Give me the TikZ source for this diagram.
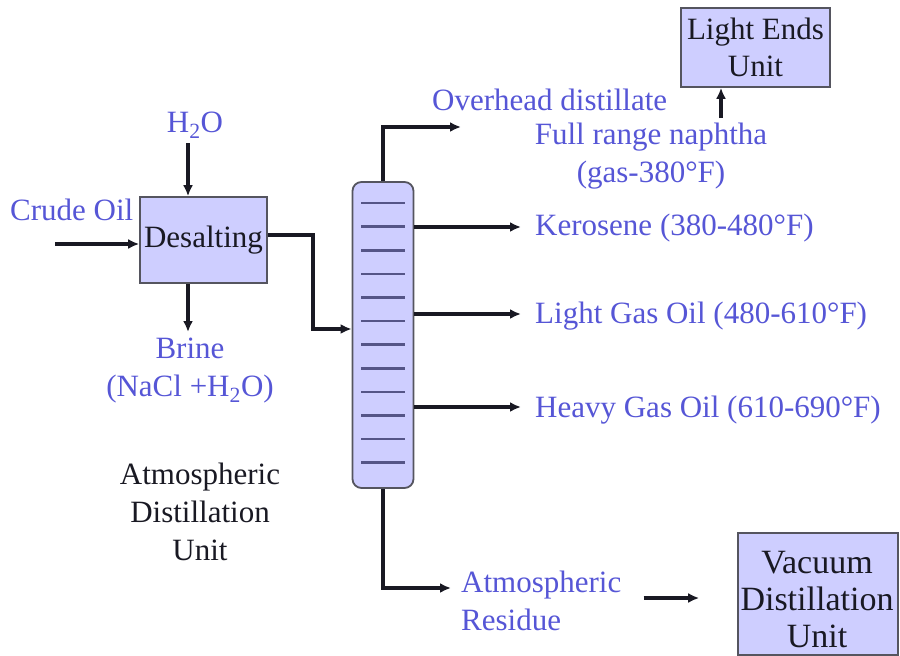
\documentclass[tikz,border=0pt]{standalone}
\usepackage{fontspec}
\setmainfont{Liberation Serif}
\usepackage{tikz}
\usetikzlibrary{
    arrows.meta,
    calc,
    positioning
}
\definecolor{ink}{RGB}{25,25,35}
\definecolor{streamblue}{RGB}{86,86,214}
\definecolor{unitfill}{RGB}{206,206,255}
\definecolor{unitedge}{RGB}{85,85,95}
\definecolor{trayline}{RGB}{85,85,135}
\tikzset{
    line cap=round,
    line join=round,
    unitbox/.style={
        rectangle,
        draw=unitedge,
        line width=1.6pt,
        fill=unitfill,
        text=ink,
        align=center,
        inner sep=2pt,
        font=\fontsize{31}{37}\selectfont
    },
    columnbox/.style={
        rectangle,
        rounded corners=9pt,
        draw=unitedge,
        line width=1.8pt,
        fill=unitfill,
        minimum width=61pt,
        minimum height=306pt
    },
    stream/.style={
        text=streamblue,
        align=center,
        inner sep=0pt,
        font=\fontsize{31}{38}\selectfont
    },
    caption/.style={
        stream,
        text=ink
    },
    flowarrow/.style={
        -{Latex[length=11pt,width=10pt]},
        draw=ink,
        line width=3.2pt
    },
    tray/.style={
        draw=trayline,
        line width=2.6pt
    }
}

\begin{document}
\begin{tikzpicture}[x=1pt, y=-1pt]
\useasboundingbox (0,0) rectangle (900,656);

% Desalter
\node[unitbox, minimum width=127pt, minimum height=86pt] (desalt) at (203.5,240) {Desalting};
\node[stream, anchor=west] (crude) at (10,210) {Crude Oil};
\node[stream] (water) at (195,125) {H\textsubscript{2}O};
\node[stream] (brine) at (190,371) {Brine\\(NaCl +H\textsubscript{2}O)};
\coordinate (crudein) at (55,244);
\coordinate (waterin) at (188,143);
\coordinate (brineout) at (188,332);

\draw[flowarrow] (crudein) -- (crudein -| desalt.west);
\draw[flowarrow] (waterin) -- (waterin |- desalt.north);
\draw[flowarrow] (brineout |- desalt.south) -- (brineout);

% Atmospheric column
\node[columnbox] (column) at (383,335) {};
\foreach \i in {0,...,11}
    \draw[tray] (361,{203+23.6*\i}) -- (405,{203+23.6*\i});
\node[caption] (adu) at (200,512) {Atmospheric\\Distillation\\Unit};

% Feed from desalter
\coordinate (feed) at (313,329);
\draw[flowarrow] (desalt.east |- 0,235) -| (feed) -- (feed -| column.west);

% Overhead and light ends
\node[stream, anchor=west] (ovhd) at (432,100) {Overhead distillate};
\coordinate (ovhdout) at (461,127);
\draw[flowarrow] (column.north) |- (ovhdout);
\node[unitbox, minimum width=149pt, minimum height=79pt] (lightends) at (755.5,47.5) {Light Ends\\Unit};
\node[stream] (naphtha) at (651,156) {Full range naphtha\\(gas-380°F)};
\coordinate (naphout) at (721,118);
\draw[flowarrow] (naphout) -- (naphout |- lightends.south);

% Side draws
\node[stream, anchor=west] (kero) at (535,228) {Kerosene (380-480°F)};
\node[stream, anchor=west] (lgo) at (535,316) {Light Gas Oil (480-610°F)};
\node[stream, anchor=west] (hgo) at (535,410) {Heavy Gas Oil (610-690°F)};
\draw[flowarrow] (column.east |- 0,227) -- ([xshift=-14pt]kero.west |- 0,227);
\draw[flowarrow] (column.east |- 0,314) -- ([xshift=-14pt]lgo.west |- 0,314);
\draw[flowarrow] (column.east |- 0,407) -- ([xshift=-14pt]hgo.west |- 0,407);

% Bottoms to vacuum unit
\node[stream, anchor=west, align=left] (residue) at (461,601) {Atmospheric\\Residue};
\coordinate (resout) at (451,588);
\draw[flowarrow] (column.south) |- (resout);
\node[unitbox, minimum width=160pt, minimum height=122pt] (vacuum) at (818,594) {};
\node[caption, font=\fontsize{34}{37}\selectfont] (vacuumtext) at (817,600) {Vacuum\\Distillation\\Unit};
\draw[flowarrow] ([xshift=22pt]residue.east |- 0,598) -- ([xshift=-38pt]vacuum.west |- 0,598);

\end{tikzpicture}
\end{document}
